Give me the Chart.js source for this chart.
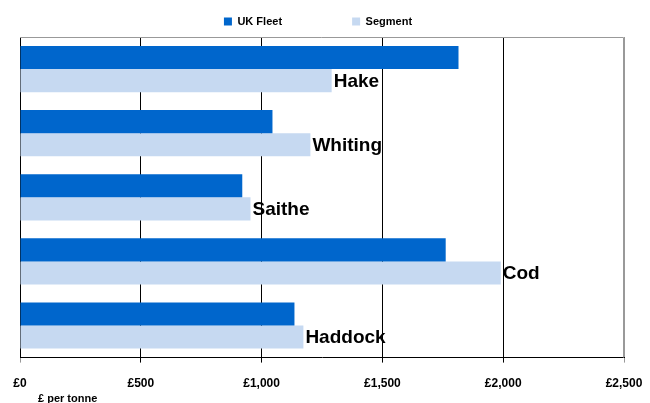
<!DOCTYPE html>
<html>
<head>
<meta charset="utf-8">
<script src="https://cdn.jsdelivr.net/npm/chart.js@4"></script>
<style>
  html, body { margin: 0; padding: 0; background: #fff; }
  #wrap { width: 650px; height: 403px; }
</style>
</head>
<body>
<div id="wrap"><canvas id="chart"></canvas></div>
<script>
const species = ["Hake", "Whiting", "Saithe", "Cod", "Haddock"];
const ukFleet = [1815, 1045, 920, 1762, 1136];
const segment = [1290, 1202, 954, 1990, 1173];
const xTicks = [0, 500, 1000, 1500, 2000, 2500];

const fmt = v => "£" + v.toLocaleString("en-GB");
const font = "'Liberation Sans', Arial, sans-serif";

// category names next to the Segment bars, plus grey frame round the plot
const extras = {
  id: "extras",
  afterDatasetsDraw(chart) {
    const ctx = chart.ctx;
    const meta = chart.getDatasetMeta(1);
    ctx.save();
    ctx.font = "bold 19px " + font;
    ctx.fillStyle = "#000";
    ctx.textBaseline = "middle";
    meta.data.forEach((bar, i) => {
      ctx.fillText(species[i], bar.x + 2, bar.y + 1);
    });
    const a = chart.chartArea;
    ctx.strokeStyle = "#999";
    ctx.lineWidth = 1;
    ctx.beginPath();
    ctx.moveTo(a.left, a.top + 0.5);
    ctx.lineTo(a.right - 0.5, a.top + 0.5);
    ctx.lineTo(a.right - 0.5, a.bottom);
    ctx.stroke();
    ctx.font = "bold 11px " + font;
    ctx.textBaseline = "alphabetic";
    ctx.fillText("£ per tonne", 38, 402);
    ctx.restore();
  }
};

new Chart(document.getElementById("chart"), {
  type: "bar",
  data: {
    labels: species,
    datasets: [
      { label: "UK Fleet", data: ukFleet, backgroundColor: "#0066CC" },
      { label: "Segment", data: segment, backgroundColor: "#C6D9F1" }
    ]
  },
  options: {
    indexAxis: "y",
    responsive: true,
    maintainAspectRatio: false,
    animation: false,
    layout: { padding: { left: 12, right: 26, top: 4, bottom: -2 } },
    datasets: { bar: { categoryPercentage: 0.72, barPercentage: 1 } },
    plugins: {
      legend: {
        position: "top",
        labels: {
          boxWidth: 8, boxHeight: 8, padding: 12,
          color: "#000",
          font: { family: font, size: 11, weight: "bold" },
          generateLabels: chart => {
            const items = Chart.defaults.plugins.legend.labels.generateLabels(chart);
            items.forEach((it, i) => { if (i === 0) it.text = it.text + "                   "; });
            return items;
          }
        }
      },
      tooltip: { enabled: false }
    },
    scales: {
      x: {
        min: 0, max: 2500,
        afterBuildTicks: axis => { axis.ticks = xTicks.map(v => ({ value: v })); },
        afterFit: axis => { axis.paddingLeft = 0; axis.paddingRight = 0; },
        grid: {
          color: c => (c.index === 0 || c.index === xTicks.length - 1) ? "#999" : "#000",
          tickLength: 5,
          drawOnChartArea: true
        },
        border: { color: "#000" },
        ticks: {
          color: "#000",
          padding: 14,
          maxRotation: 0,
          callback: v => fmt(v),
          font: { family: font, size: 12, weight: "bold" }
        }
      },
      y: {
        grid: { display: false },
        border: { color: "#000" },
        ticks: { display: false }
      }
    }
  },
  plugins: [extras]
});
</script>
</body>
</html>
